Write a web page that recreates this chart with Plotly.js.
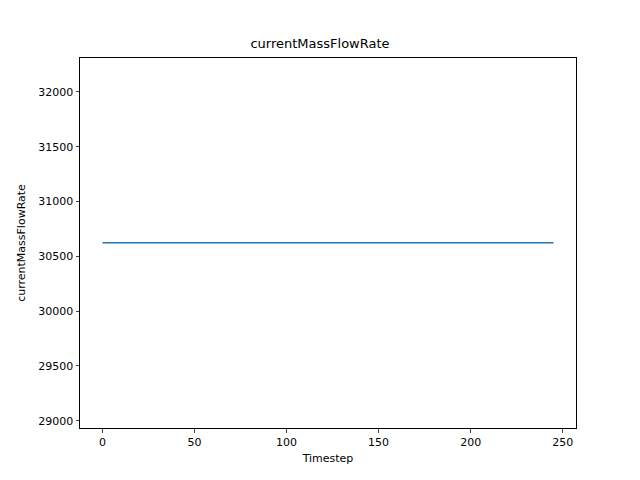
<!DOCTYPE html>
<html><head><script src="https://cdn.plot.ly/plotly-3.0.1.min.js"></script>
<style>body{margin:0}</style></head><body>
<div id="c" style="width:640px;height:480px"></div>
<script>
const timesteps = [0, 245];
const massFlow = [30625, 30625];
const yTicks = [29000, 29500, 30000, 30500, 31000, 31500, 32000];
const xTicks = [0, 50, 100, 150, 200, 250];
Plotly.newPlot('c', [{x: timesteps, y: massFlow, mode: 'lines', line: {color: '#1f77b4', width: 1.5}}], {
  width: 640, height: 480, showlegend: false,
  margin: {l: 80, r: 64, t: 58, b: 52},
  font: {family: 'DejaVu Sans', size: 11, color: '#000'},
  title: {text: 'currentMassFlowRate', font: {size: 13}, x: 0.5, y: 1 - 43/480, yanchor: 'middle'},
  xaxis: {range: [-12.25, 257.25], tickvals: xTicks, ticks: 'outside', ticklen: 3.5, showgrid: false, zeroline: false,
    showline: true, mirror: true, linecolor: '#000', linewidth: 1, title: {text: 'Timestep', font: {size: 11}, standoff: 6}},
  yaxis: {range: [28934, 32310], tickvals: yTicks, ticktext: yTicks.map(String), ticks: 'outside', ticklen: 3.5, showgrid: false, zeroline: false,
    showline: true, mirror: true, linecolor: '#000', linewidth: 1, title: {text: 'currentMassFlowRate', font: {size: 11}, standoff: 10}},
  plot_bgcolor: '#fff', paper_bgcolor: '#fff'
}, {displayModeBar: false});
</script></body></html>
